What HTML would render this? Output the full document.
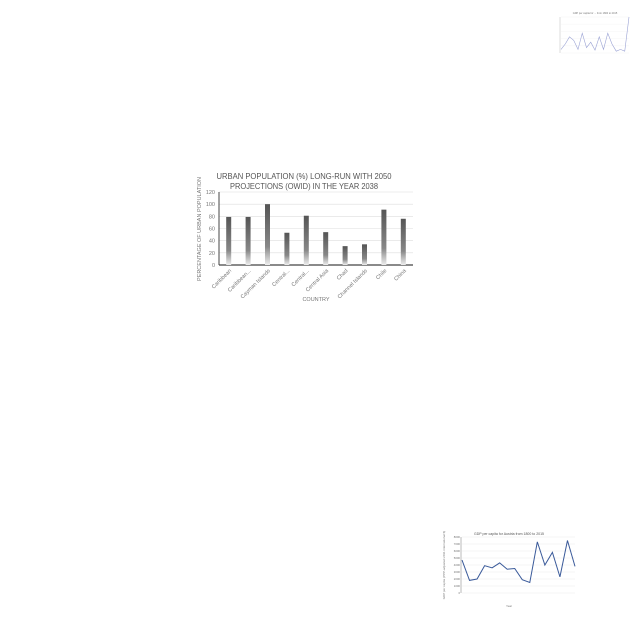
<!DOCTYPE html>
<html><head><meta charset="utf-8"><style>
body{margin:0;background:#fff;width:640px;height:640px;overflow:hidden;font-family:"Liberation Sans",sans-serif}
svg{position:absolute;left:0;top:0}
</style></head><body>
<svg width="640" height="640">
<defs><linearGradient id="g" x1="0" y1="0" x2="0" y2="1"><stop offset="0" stop-color="#555"/><stop offset="0.7" stop-color="#888"/><stop offset="1" stop-color="#eee"/></linearGradient></defs>
<g id="main">
<text x="304" y="179" text-anchor="middle" font-size="8" fill="#555" textLength="175" lengthAdjust="spacingAndGlyphs">URBAN POPULATION (%) LONG-RUN WITH 2050</text>
<text x="304" y="189" text-anchor="middle" font-size="8" fill="#555" textLength="148" lengthAdjust="spacingAndGlyphs">PROJECTIONS (OWID) IN THE YEAR 2038</text>
<text transform="translate(201,229) rotate(-90)" text-anchor="middle" font-size="5.5" fill="#777">PERCENTAGE OF URBAN POPULATION</text>
<text x="316" y="301" text-anchor="middle" font-size="5.5" fill="#777">COUNTRY</text>
</g>
<g id="tr"></g>
<g id="br">
<text x="509" y="535" text-anchor="middle" font-size="3.5" fill="#555">GDP per capita for Austria from 1800 to 2015</text>
<text x="509" y="607" text-anchor="middle" font-size="3" fill="#777">Year</text>
</g>
</svg>
<script>
const categories=["Caribbean","Caribbean...","Cayman Islands","Central...","Central...","Central Asia","Chad","Channel Islands","Chile","China"];
const values=[79,79,100,53,81,54,31,34,91,76];
const yTicks=[0,20,40,60,80,100,120];
const austriaValues=[4700,1800,2000,3900,3600,4300,3400,3500,1900,1500,7300,4000,5800,2300,7500,3800];
const austriaTicks=[0,1000,2000,3000,4000,5000,6000,7000,8000];
const topValues=[10,25,45,35,10,55,15,30,8,45,10,55,25,5,10,5,100];
const NS="http://www.w3.org/2000/svg";
function mk(p,t,a){const e=document.createElementNS(NS,t);for(const k in a)e.setAttribute(k,a[k]);p.appendChild(e);return e;}
const m=document.getElementById('main');
const x0=219,x1=413,y0=265,y1=192;
const ys=v=>y0-(v/120)*(y0-y1);
const step=(x1-x0)/categories.length;
yTicks.forEach(t=>{
 const l=mk(m,'line',{x1:x0,x2:x1,y1:ys(t),y2:ys(t),stroke:'#ddd','stroke-width':0.6});
 
 
 const tx=mk(m,'text',{x:x0-4,y:ys(t)+2,'text-anchor':'end','font-size':5.5,fill:'#777'});tx.textContent=t;
 
 
});
let ax=mk(m,'line',{x1:x0,x2:x0,y1:y1,y2:y0,stroke:'#444','stroke-width':1});


ax=mk(m,'line',{x1:x0,x2:x1,y1:y0,y2:y0,stroke:'#444','stroke-width':1.2});


categories.forEach((c,i)=>{
 const cx=x0+step*(i+0.5);
 const b=mk(m,'rect',{x:cx-2.5,y:ys(values[i]),width:5,height:y0-ys(values[i]),fill:'url(#g)'});
 
 
 const t=mk(m,'text',{transform:`translate(${cx+3},${y0+6}) rotate(-45)`,'text-anchor':'end','font-size':5.5,fill:'#777'});t.textContent=c;
 
 
});
const br=document.getElementById('br');
const bx0=462,bx1=575,by0=593,by1=537;
const bys=v=>by0-v/8000*(by0-by1);
austriaTicks.forEach(t=>{
 const l=mk(br,'line',{x1:bx0,x2:bx1,y1:bys(t),y2:bys(t),stroke:'#e4e4e4','stroke-width':0.4});
 
 
 const tx=mk(br,'text',{x:bx0-2,y:bys(t)+1,'text-anchor':'end','font-size':2.8,fill:'#777'});tx.textContent=t;
 
 
});
const bst=(bx1-bx0)/(austriaValues.length-1);
const bl=mk(br,'polyline',{points:austriaValues.map((v,i)=>`${bx0+i*bst},${bys(v)}`).join(' '),fill:'none',stroke:'#3a5a9a','stroke-width':1});


let a2=mk(br,'line',{x1:bx0-1,x2:bx0-1,y1:by1,y2:by0,stroke:'#777','stroke-width':0.5});


const yt=mk(br,'text',{transform:'translate(445,565) rotate(-90)','text-anchor':'middle','font-size':3,fill:'#777'});yt.textContent='GDP per capita (PPP-adjusted 2011 international $)';


const tr=document.getElementById('tr');
const tx0=561,tx1=629,ty0=53,ty1=17;
const tys=v=>ty0-v/100*(ty0-ty1);
[0,20,40,60,80,100].forEach(t=>{
 const l=mk(tr,'line',{x1:tx0,x2:tx1,y1:tys(t),y2:tys(t),stroke:'#eee','stroke-width':0.3});
 
 
});
let a3=mk(tr,'line',{x1:tx0-1,x2:tx0-1,y1:ty1,y2:ty0,stroke:'#aaa','stroke-width':0.4});


const tst=(tx1-tx0)/(topValues.length-1);
const tl=mk(tr,'polyline',{points:topValues.map((v,i)=>`${tx0+i*tst},${tys(v)}`).join(' '),fill:'none',stroke:'#9aa2d4','stroke-width':0.6});


const tt=mk(tr,'text',{x:595,y:14,'text-anchor':'middle','font-size':2.5,fill:'#777'});tt.textContent='GDP per capita for ... from 1800 to 2015';


</script>
</body></html>
